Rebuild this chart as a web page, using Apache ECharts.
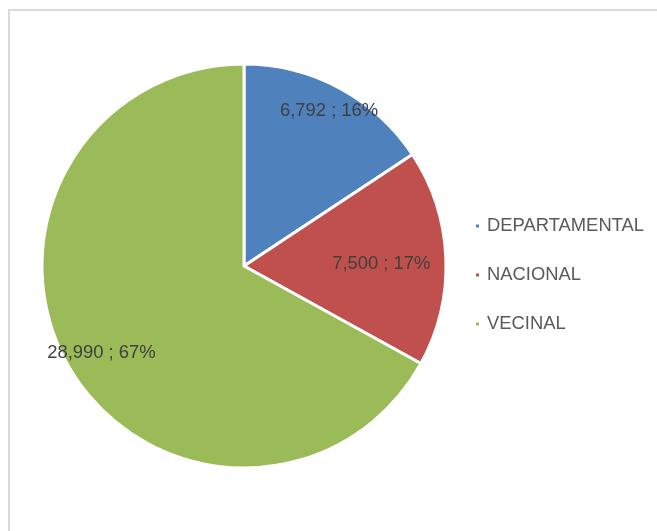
<!DOCTYPE html>
<html>
<head>
<meta charset="utf-8">
<script src="https://cdn.jsdelivr.net/npm/echarts@6/dist/echarts.min.js"></script>
<style>
	* { margin: 0; padding: 0; box-sizing: border-box; }
	body { width: 657px; height: 531px; background: #fff; overflow: hidden; position: relative; }
	.frame { position: absolute; left: 8px; top: 9px; width: 700px; height: 600px; border: 2px solid #d9d9d9; }
	#chart { position: absolute; left: 0; top: 0; width: 657px; height: 531px; }
</style>
</head>
<body>
<div class="frame"></div>
<div id="chart"></div>
<script>
	// datos
	var categorias = ['DEPARTAMENTAL', 'NACIONAL', 'VECINAL'];
	var valores = [6792, 7500, 28990];
	var colores = ['#4f81bd', '#c0504d', '#9bbb59'];
	// distancia radial de cada etiqueta (fraccion del radio)
	var posEtiqueta = [0.89, 0.68, 0.82];

	var centro = [244, 266];
	var radio = 202;
	var total = valores.reduce(function (a, b) { return a + b; }, 0);

	function anguloMedio(i) {
		var acum = 0;
		for (var k = 0; k < i; k++) acum += valores[k];
		return (acum + valores[i] / 2) / total * Math.PI * 2;
	}

	var chart = echarts.init(document.getElementById('chart'));
	var options = {
		animation: false,
		legend: {
			orient: 'vertical',
			left: 469,
			top: 212,
			icon: 'rect',
			itemWidth: 5,
			itemHeight: 5,
			itemGap: 31,
			textStyle: {
				fontFamily: 'Liberation Sans, Arial, sans-serif',
				fontSize: 18.4,
				lineHeight: 18,
				color: '#595959',
				padding: [0, 0, 0, 2]
			},
			data: categorias
		},
		series: [{
			type: 'pie',
			center: centro,
			radius: radio,
			startAngle: 90,
			clockwise: true,
			itemStyle: {
				borderColor: '#fff',
				borderWidth: 3
			},
			label: {
				show: true,
				position: 'inside',
				fontFamily: 'Liberation Sans, Arial, sans-serif',
				fontSize: 18.4,
				color: '#404040',
				formatter: function (p) {
					return p.value.toLocaleString('en-US') + ' ; ' + Math.round(p.percent) + '%';
				}
			},
			labelLine: { show: false },
			labelLayout: function (p) {
				var a = anguloMedio(p.dataIndex);
				var r = radio * posEtiqueta[p.dataIndex];
				return {
					x: centro[0] + r * Math.sin(a),
					y: centro[1] - r * Math.cos(a) + 3,
					align: 'center',
					verticalAlign: 'middle'
				};
			},
			data: categorias.map(function (c, i) {
				return { name: c, value: valores[i], itemStyle: { color: colores[i] } };
			})
		}]
	};
	chart.setOption(options);
</script>
</body>
</html>
